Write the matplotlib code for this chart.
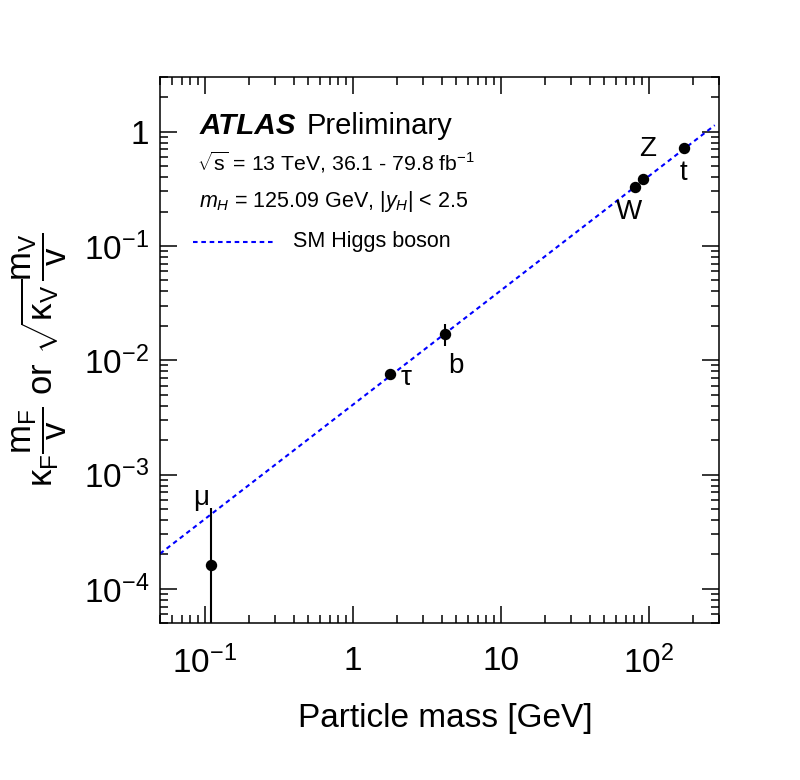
import numpy as np
import matplotlib
matplotlib.use('Agg')
import matplotlib.pyplot as plt
from matplotlib.ticker import LogLocator, FixedLocator, FixedFormatter, NullFormatter
from matplotlib.lines import Line2D

plt.rcParams['font.family'] = ['Liberation Sans', 'DejaVu Sans']
plt.rcParams['mathtext.fontset'] = 'custom'
plt.rcParams['mathtext.rm'] = 'Liberation Sans'
plt.rcParams['mathtext.it'] = 'Liberation Sans:italic'
plt.rcParams['mathtext.bf'] = 'Liberation Sans:bold'
plt.rcParams['mathtext.default'] = 'rm'

# ---- data ----
particles = ['μ', 'τ', 'b', 'W', 'Z', 't']
mass = [0.11, 1.777, 4.18, 80.38, 91.19, 172.5]
coupling = [1.63e-4, 7.57e-3, 1.69e-2, 0.331, 0.384, 0.716]
coup_low = [1.0e-7, 6.66e-3, 1.34e-2, 0.316, 0.367, 0.685]
coup_high = [5.1e-4, 8.38e-3, 2.08e-2, 0.347, 0.401, 0.748]
vev = 246.22
sm_mass = [0.05, 280.0]
xticks = [0.1, 1, 10, 100]
xticklabels = [r'$10^{-1}$', '1', '10', r'$10^{2}$']
yticks = [1e-4, 1e-3, 1e-2, 1e-1, 1]
yticklabels = [r'$10^{-4}$', r'$10^{-3}$', r'$10^{-2}$', r'$10^{-1}$', '1']
label_offsets = [(-10, 67), (17, -4), (11, -32), (-6, -25), (5, 30), (0, -25)]

fig = plt.figure(figsize=(8.0, 7.8), dpi=100)
ax = fig.add_axes([0.2, 0.2009, 0.699, 0.7003])
ax.set_xscale('log')
ax.set_yscale('log')
ax.set_xlim(0.05, 300)
ax.set_ylim(5e-5, 3)

# SM line
sm_y = [m / vev for m in sm_mass]
ax.plot(sm_mass, sm_y, color=(0, 0, 1), lw=1.5, linestyle=(0, (2.2, 1.8)))

# points with errors
c = np.array(coupling)
yerr = np.vstack([c - np.array(coup_low), np.array(coup_high) - c])
ax.errorbar(mass, coupling, yerr=yerr, fmt='o', color='black', ms=7.2,
            elinewidth=1.5, capsize=0, zorder=5)

for name, m, y, off in zip(particles, mass, coupling, label_offsets):
    ax.annotate(name, xy=(m, y), xytext=off, textcoords='offset pixels',
                ha='center', va='center', fontsize=20)

# ticks
ax.xaxis.set_major_locator(FixedLocator(xticks))
ax.xaxis.set_major_formatter(FixedFormatter(xticklabels))
ax.xaxis.set_minor_locator(LogLocator(base=10, subs=np.arange(2, 10), numticks=20))
ax.xaxis.set_minor_formatter(NullFormatter())
ax.yaxis.set_major_locator(FixedLocator(yticks))
ax.yaxis.set_major_formatter(FixedFormatter(yticklabels))
ax.yaxis.set_minor_locator(LogLocator(base=10, subs=np.arange(2, 10), numticks=20))
ax.yaxis.set_minor_formatter(NullFormatter())
ax.tick_params(which='both', direction='in', top=True, right=True, width=1.1)
ax.tick_params(which='major', length=12)
ax.tick_params(which='minor', length=6)
ax.tick_params(axis='x', which='major', labelsize=24, pad=16)
ax.tick_params(axis='y', which='major', labelsize=24, pad=8)
for s in ax.spines.values():
    s.set_linewidth(1.1)

# texts
ax.text(0.0703, 0.8957, r'ATLAS', transform=ax.transAxes, fontsize=21.3,
        fontweight='bold', fontstyle='italic', va='baseline', ha='left')
ax.text(0.2628, 0.8957, 'Preliminary', transform=ax.transAxes,
        fontsize=21, va='baseline', ha='left')
ax.text(0.0656, 0.8298, r'$\sqrt{s}$ = 13 TeV, 36.1 - 79.8 fb$^{-1}$',
        transform=ax.transAxes, fontsize=15.3, va='baseline', ha='left')
ax.text(0.0694, 0.7626, r'$\mathit{m}_{\mathit{H}}$ = 125.09 GeV, |$\mathit{y}_{\mathit{H}}$| < 2.5',
        transform=ax.transAxes, fontsize=15.5, va='baseline', ha='left')
ax.add_line(Line2D([0.059, 0.2038], [0.6985, 0.6985], transform=ax.transAxes,
                   color=(0, 0, 1), lw=1.5, linestyle=(0, (2.2, 1.8))))
ax.text(0.2373, 0.6892, 'SM Higgs boson', transform=ax.transAxes,
        fontsize=15.5, va='baseline', ha='left')

fig.text(445 / 800, 1 - 727 / 780, 'Particle mass [GeV]', fontsize=24,
         ha='center', va='baseline')
fig.text(40 / 800, 1 - 360 / 780,
         r'$\mathrm{\kappa}_{F}\dfrac{m_{F}}{v}$ or $\sqrt{\mathrm{\kappa}_{V}}\dfrac{m_{V}}{v}$',
         fontsize=25, rotation=90, ha='center', va='center')

fig.savefig('out.png', dpi=100)
